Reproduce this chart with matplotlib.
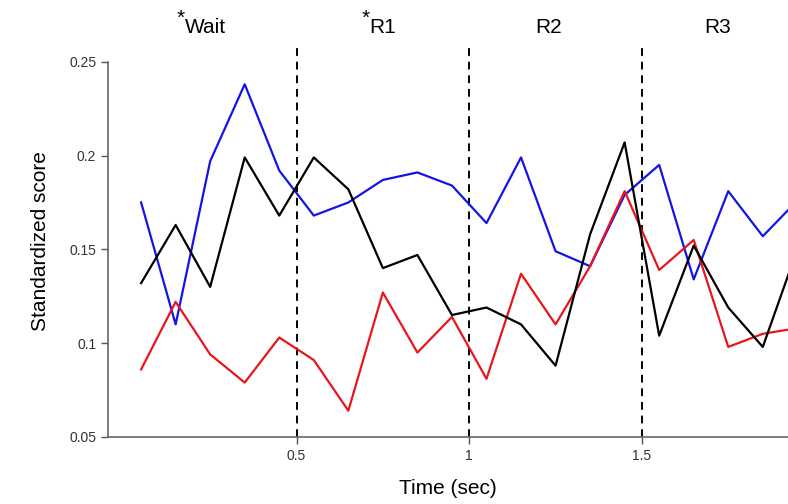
import matplotlib
matplotlib.use("Agg")
import matplotlib.pyplot as plt

plt.rcParams['font.family'] = ['Liberation Sans Narrow', 'Liberation Sans', 'DejaVu Sans']

# time bins (sec) and the three traces
t = [0.05, 0.15, 0.25, 0.35, 0.45, 0.55, 0.65, 0.75, 0.85, 0.95,
     1.05, 1.15, 1.25, 1.35, 1.45, 1.55, 1.65, 1.75, 1.85, 1.95]
blue = [0.175, 0.110, 0.197, 0.238, 0.192, 0.168, 0.175, 0.187, 0.191, 0.184,
        0.164, 0.199, 0.149, 0.141, 0.179, 0.195, 0.134, 0.181, 0.157, 0.176]
black = [0.132, 0.163, 0.130, 0.199, 0.168, 0.199, 0.182, 0.140, 0.147, 0.115,
         0.119, 0.110, 0.088, 0.158, 0.207, 0.104, 0.152, 0.119, 0.098, 0.150]
red = [0.086, 0.122, 0.094, 0.079, 0.103, 0.091, 0.064, 0.127, 0.095, 0.114,
       0.081, 0.137, 0.110, 0.141, 0.181, 0.139, 0.155, 0.098, 0.105, 0.108]

epochs = [0.5, 1.0, 1.5]
phase_labels = ['Wait', 'R1', 'R2', 'R3']
phase_star = [True, True, False, False]
phase_pos = [0.235, 0.75, 1.23, 1.72]

fig = plt.figure(figsize=(7.88, 5.04), dpi=100)
ax = fig.add_axes([0.137, 0.133, 0.863, 0.778])

ax.plot(t, blue, color='#1414e6', lw=1.6, zorder=3)
ax.plot(t, red, color='#e8161c', lw=1.6, zorder=3)
ax.plot(t, black, color='black', lw=1.6, zorder=4)

for e in epochs:
    ax.axvline(e, color='black', lw=1.4, ls=(0, (4, 3)), zorder=2)

ax.set_xlim(-0.046, 1.923)
ax.set_ylim(0.05, 0.259)

ax.set_xticks(epochs)
ax.set_xticklabels(['0.5', '1', '1.5'])
ax.set_yticks([0.05, 0.1, 0.15, 0.2, 0.25])
ax.set_yticklabels(['0.05', '0.1', '0.15', '0.2', '0.25'])
ax.tick_params(axis='both', labelsize=10, colors='#555555', labelcolor='#333333',
               length=5, width=1)

for s in ['top', 'right']:
    ax.spines[s].set_visible(False)
for s in ['left', 'bottom']:
    ax.spines[s].set_color('#666666')
    ax.spines[s].set_linewidth(1.2)
ax.spines['left'].set_bounds(0.05, 0.25)

ax.set_xlabel('Time (sec)', fontsize=15, labelpad=12)
ax.set_ylabel('Standardized score', fontsize=15, labelpad=14)

for lab, star, xp in zip(phase_labels, phase_star, phase_pos):
    txt = ax.text(xp, 0.268, lab, fontsize=15, ha='center', va='center', clip_on=False)
    if star:
        # asterisk sits just left of the label, raised above the caps
        ax.annotate('*', xy=(0, 1.0), xycoords=txt, xytext=(0, 0),
                    textcoords='offset points', fontsize=15,
                    ha='right', va='center', annotation_clip=False)

fig.savefig('out.png', dpi=100)
